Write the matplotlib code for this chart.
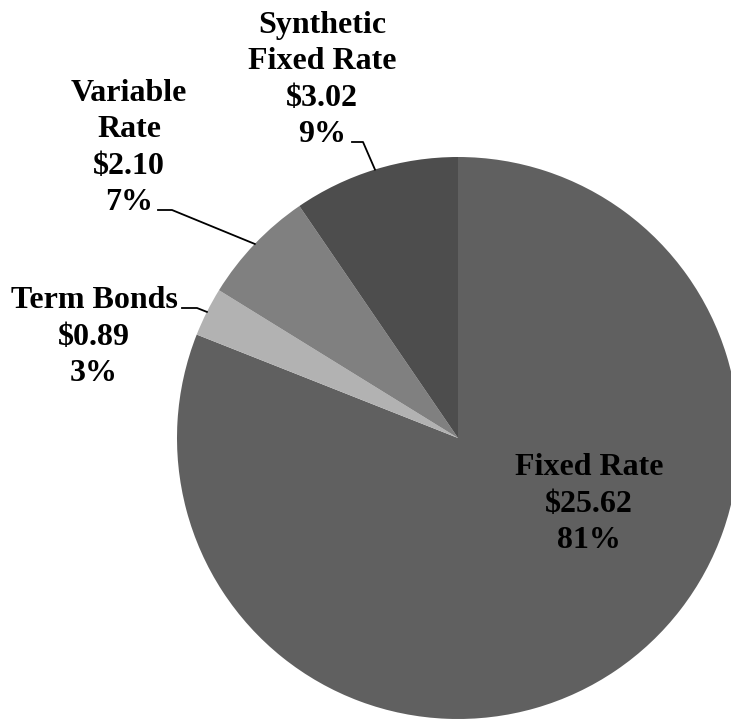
import numpy as np
import matplotlib.pyplot as plt

# debt outstanding, $ billions
labels = ["Fixed Rate", "Term Bonds", "Variable\nRate", "Synthetic\nFixed Rate"]
amounts = [25.62, 0.89, 2.10, 3.02]
pcts = ["81%", "3%", "7%", "9%"]
colors = ["#606060", "#b2b2b2", "#808080", "#4d4d4d"]

W, H = 731, 720
CX, CY, R = 458, 438, 281   # pie centre / radius in pixels


def px(x, y):
    # pixel position in the picture -> data units of the pie axes
    return (x - CX) / R, (CY - y) / R


fig = plt.figure(figsize=(W / 100, H / 100), dpi=100)
ax = fig.add_axes([0, 0, 1, 1])

wedges, _ = ax.pie(amounts, colors=colors, startangle=90, counterclock=False,
                   radius=1, wedgeprops=dict(linewidth=0))

# pie() resets the limits, so set them afterwards
ax.set_xlim(-CX / R, (W - CX) / R)
ax.set_ylim(-(H - CY) / R, CY / R)
ax.set_aspect("equal")
ax.axis("off")

font = dict(family="Liberation Serif", weight="bold", fontsize=23,
            ha="center", va="baseline", linespacing=1.33)

# label anchor (last-line baseline) and leader elbow, in pixels
text_pos = [(589, 548), (94, 381), (129, 210), (322, 142)]
elbows = [None, ((182, 308), (197, 308)), ((158, 210), (172, 210)),
          ((352, 142), (363, 142))]

for i, w in enumerate(wedges):
    txt = f"{labels[i]}\n${amounts[i]:.2f}\n{pcts[i]}"
    ax.text(*px(*text_pos[i]), txt, **font)
    if elbows[i] is not None:
        ang = np.deg2rad((w.theta1 + w.theta2) / 2)
        ex, ey = np.cos(ang), np.sin(ang)
        p0 = px(*elbows[i][0])
        p1 = px(*elbows[i][1])
        ax.plot([p0[0], p1[0], ex], [p0[1], p1[1], ey], color="black", lw=1.3)

fig.savefig("out.png", dpi=100)
